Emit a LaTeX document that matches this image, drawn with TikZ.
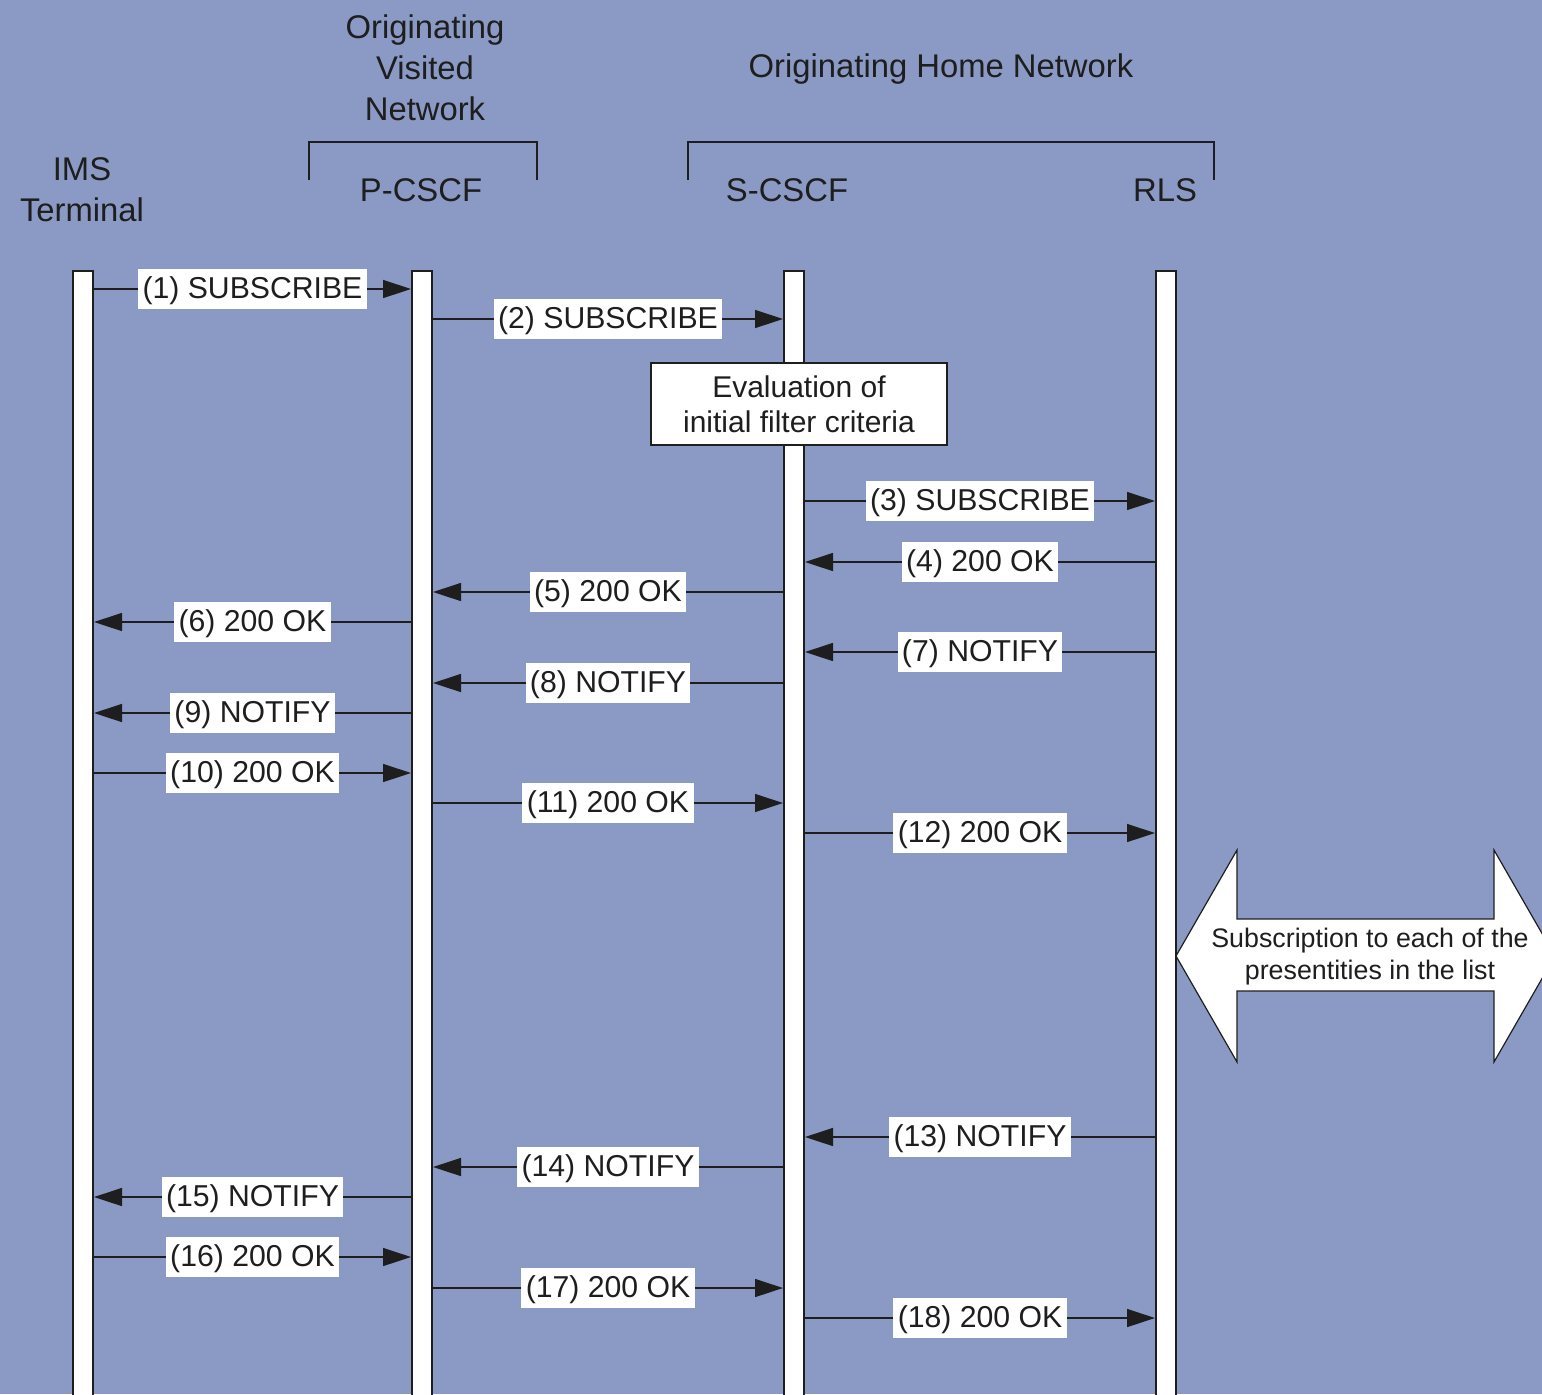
\documentclass[tikz,border=0pt]{standalone}
\usepackage{fontspec}
\setmainfont{Liberation Sans}
\usetikzlibrary{arrows.meta}
\definecolor{bg}{RGB}{139,154,197}
\definecolor{ink}{RGB}{30,30,30}
\tikzset{
  lifeline/.style={draw=ink, line width=1pt, fill=white, minimum width=10pt, minimum height=565pt, inner sep=0pt, anchor=north},
  msg/.style={draw=ink, line width=0.7pt, -{Triangle[length=14pt,width=9pt]}},
  lbl/.style={fill=white, text=ink, font=\fontsize{15.1}{18}\selectfont, inner xsep=2.2pt, inner ysep=2.1pt, text height=13pt, text depth=3.2pt},
  hdr/.style={text=ink, font=\fontsize{16.4}{20.5}\selectfont, align=center},
  bracket/.style={draw=ink, line width=1pt},
}
\newcommand\rmsg[4]{\draw[msg] (#1.east |- 0,#3) -- (#2.west |- 0,#3) node[lbl,midway] {#4};}
\newcommand\lmsg[4]{\draw[msg] (#1.west |- 0,#3) -- (#2.east |- 0,#3) node[lbl,midway] {#4};}
\begin{document}
\begin{tikzpicture}[x=0.5pt,y=-0.5pt]
\fill[bg] (0,0) rectangle (1542,1394);
\useasboundingbox (0,0) rectangle (1542,1394);
% headers
\node[hdr] (hvis) at (425,68) {Originating\\Visited\\Network};
\node[hdr] (hhome) at (941,69) {Originating Home Network};
\node[hdr] (hims) at (82,190) {IMS\\Terminal};
\node[hdr] (hpc) at (421,190) {P-CSCF};
\node[hdr] (hsc) at (787,190) {S-CSCF};
\node[hdr] (hrls) at (1165,190) {RLS};
\draw[bracket] (309,180) -- (309,142) -- (537,142) -- (537,180);
\draw[bracket] (688,180) -- (688,142) -- (1214,142) -- (1214,180);
% lifelines
\node[lifeline] (ims) at (83,270) {};
\node[lifeline] (pc) at (422,270) {};
\node[lifeline] (sc) at (794,270) {};
\node[lifeline] (rls) at (1166,270) {};
% messages
\rmsg{ims}{pc}{289}{(1) SUBSCRIBE}
\rmsg{pc}{sc}{319}{(2) SUBSCRIBE}
\node[draw=ink, line width=0.7pt, fill=white, text=ink, minimum width=148pt, minimum height=41pt, align=center, font=\fontsize{15}{17.5}\selectfont] (eval) at (799,404) {Evaluation of\\initial filter criteria};
\rmsg{sc}{rls}{501}{(3) SUBSCRIBE}
\lmsg{rls}{sc}{562}{(4) 200 OK}
\lmsg{sc}{pc}{592}{(5) 200 OK}
\lmsg{pc}{ims}{622}{(6) 200 OK}
\lmsg{rls}{sc}{652}{(7) NOTIFY}
\lmsg{sc}{pc}{683}{(8) NOTIFY}
\lmsg{pc}{ims}{713}{(9) NOTIFY}
\rmsg{ims}{pc}{773}{(10) 200 OK}
\rmsg{pc}{sc}{803}{(11) 200 OK}
\rmsg{sc}{rls}{833}{(12) 200 OK}
\lmsg{rls}{sc}{1137}{(13) NOTIFY}
\lmsg{sc}{pc}{1167}{(14) NOTIFY}
\lmsg{pc}{ims}{1197}{(15) NOTIFY}
\rmsg{ims}{pc}{1257}{(16) 200 OK}
\rmsg{pc}{sc}{1288}{(17) 200 OK}
\rmsg{sc}{rls}{1318}{(18) 200 OK}
% double arrow
\filldraw[fill=white, draw=ink, line width=0.6pt] (1176,956) -- (1237,850) -- (1237,919) -- (1494,919) -- (1494,850) -- (1555,956) -- (1494,1062) -- (1494,991) -- (1237,991) -- (1237,1062) -- cycle;
\node[text=ink, align=center, font=\fontsize{13.4}{16}\selectfont] (sub) at (1370,957) {Subscription to each of the\\presentities in the list};
\end{tikzpicture}
\end{document}
